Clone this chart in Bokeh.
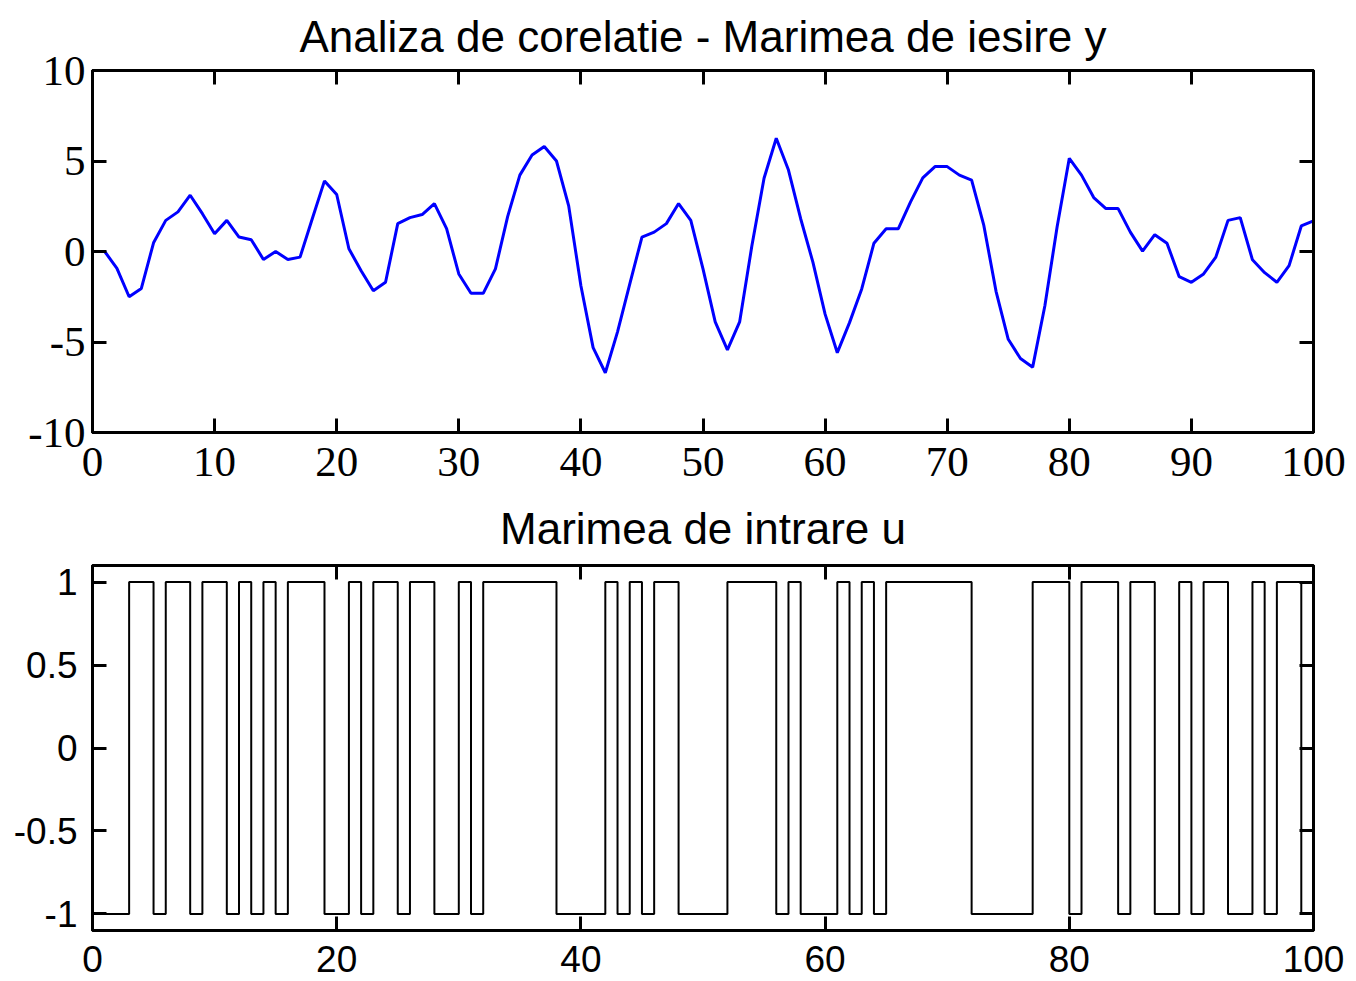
from bokeh.plotting import figure
from bokeh.layouts import column
from bokeh.models import LinearAxis, FixedTicker, Range1d, CustomJSTickFormatter
from bokeh.embed import file_html
from bokeh.resources import INLINE

# ---- data: output y (sample index 1..100) ----
k_out = list(range(1, 101))
y_out = [0.0, -0.93, -2.5, -2.04, 0.48, 1.72, 2.19, 3.11, 2.09, 0.98,
         1.72, 0.8, 0.65, -0.44, 0.0, -0.44, -0.31, 1.81, 3.9, 3.15,
         0.15, -1.06, -2.17, -1.7, 1.54, 1.87, 2.04, 2.65, 1.26, -1.24,
         -2.31, -2.31, -0.96, 1.93, 4.22, 5.33, 5.8, 5.0, 2.52, -1.89,
         -5.31, -6.7, -4.44, -1.8, 0.8, 1.07, 1.54, 2.65, 1.72, -0.96,
         -3.89, -5.44, -3.89, 0.3, 4.05, 6.26, 4.5, 1.81, -0.59, -3.46,
         -5.59, -3.93, -2.07, 0.46, 1.26, 1.26, 2.74, 4.07, 4.69, 4.69,
         4.22, 3.94, 1.44, -2.2, -4.85, -5.91, -6.39, -3.0, 1.35, 5.15,
         4.22, 2.98, 2.37, 2.37, 1.07, 0.02, 0.93, 0.46, -1.39, -1.7,
         -1.24, -0.31, 1.72, 1.87, -0.46, -1.17, -1.7, -0.78, 1.41, 1.69]

# ---- data: input u (PRBS), value held on [k, k+1) for k = 0..99 ----
u_in = [-1, -1, -1, 1, 1, -1, 1, 1, -1, 1,
        1, -1, 1, -1, 1, -1, 1, 1, 1, -1,
        -1, 1, -1, 1, 1, -1, 1, 1, -1, -1,
        1, -1, 1, 1, 1, 1, 1, 1, -1, -1,
        -1, -1, 1, -1, 1, -1, 1, 1, -1, -1,
        -1, -1, 1, 1, 1, 1, -1, 1, -1, -1,
        -1, 1, -1, 1, -1, 1, 1, 1, 1, 1,
        1, 1, -1, -1, -1, -1, -1, 1, 1, 1,
        -1, 1, 1, 1, -1, 1, 1, -1, -1, 1,
        -1, 1, 1, -1, -1, 1, -1, 1, 1, -1]
t_in = list(range(0, 101))
u_step = u_in + [u_in[-1]]

# ---- ticks / labels ----
top_xticks = [0, 10, 20, 30, 40, 50, 60, 70, 80, 90, 100]
top_yticks = [-10, -5, 0, 5, 10]
bot_xticks = [0, 20, 40, 60, 80, 100]
bot_yticks = [-1, -0.5, 0, 0.5, 1]
bot_ylabels = ["-1", "-0.5", "0", "0.5", "1"]

title_top = "Analiza de corelatie - Marimea de iesire y"
title_bot = "Marimea de intrare u"

EMPTY = CustomJSTickFormatter(code="return ''")


def style(p, xticks, yticks, xlabels, ylabels, font, size, xstand, ystand,
          tick_len, lw, title_standoff):
    p.xgrid.visible = False
    p.ygrid.visible = False
    p.outline_line_color = "black"
    p.outline_line_width = lw
    p.outline_line_alpha = 1.0
    p.title.text_font = "Liberation Sans"
    p.title.text_font_size = "44px"
    p.title.text_font_style = "normal"
    p.title.text_color = "black"
    p.title.align = "center"
    p.title.standoff = title_standoff
    for ax, ticks, labels, stand in ((p.xaxis[0], xticks, xlabels, xstand),
                                    (p.yaxis[0], yticks, ylabels, ystand)):
        ax.ticker = FixedTicker(ticks=ticks)
        ax.major_label_overrides = {t: l for t, l in zip(ticks, labels)}
        ax.major_label_text_font = font
        ax.major_label_text_font_size = size
        ax.major_label_text_color = "black"
        ax.major_label_standoff = stand
        ax.major_tick_in = tick_len
        ax.major_tick_out = 0
        ax.minor_tick_line_color = None
        ax.axis_line_width = lw
        ax.axis_line_color = "black"
        ax.major_tick_line_width = lw
        ax.major_tick_line_color = "black"
    for loc, ticks in (("above", xticks), ("right", yticks)):
        ax = LinearAxis(ticker=FixedTicker(ticks=ticks), formatter=EMPTY,
                        major_tick_in=tick_len, major_tick_out=0,
                        minor_tick_line_color=None, axis_line_width=lw,
                        axis_line_color="black", major_tick_line_width=lw,
                        major_tick_line_color="black", major_label_standoff=0,
                        major_label_text_font_size="2px")
        p.add_layout(ax, loc)


p1 = figure(width=1348, height=488, x_range=Range1d(0, 100), y_range=Range1d(-10, 10),
            output_backend="svg", toolbar_location=None, title=title_top,
            min_border_left=92, min_border_right=35, min_border_top=69, min_border_bottom=56)
p1.line(k_out, y_out, line_color="#0000ff", line_width=3)
style(p1, top_xticks, top_yticks, [str(t) for t in top_xticks], [str(t) for t in top_yticks],
      "Liberation Serif", "43px", 15, 7, 14, 3, 19)

p2 = figure(width=1348, height=493, x_range=Range1d(0, 100), y_range=Range1d(-1.1, 1.1),
            output_backend="svg", toolbar_location=None, title=title_bot,
            min_border_left=92, min_border_right=35, min_border_top=77, min_border_bottom=51)
p2.step(t_in, u_step, mode="after", line_color="black", line_width=2)
style(p2, bot_xticks, bot_yticks, [str(t) for t in bot_xticks], bot_ylabels,
      "Liberation Sans", "37px", 15, 15, 14, 3, 25)

layout = column(p1, p2, spacing=0)
open("out.html", "w").write(file_html(layout, INLINE))
